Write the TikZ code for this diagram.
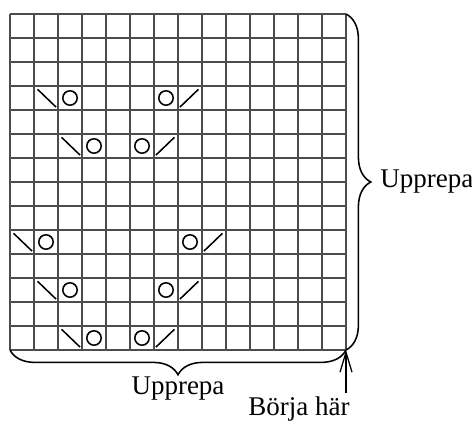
\documentclass[tikz,border=0pt]{standalone}
\usepackage{fontspec}
\setmainfont{Liberation Serif}
\usetikzlibrary{arrows.meta,decorations.pathreplacing,positioning}
\begin{document}
\begin{tikzpicture}[x=0.6cm,y=0.6cm,
	gridline/.style={black!70,line width=0.75pt},
	stitch/.style={line width=1.1pt},
	repbrace/.style={decorate,decoration={brace,amplitude=0.62cm},line width=1.1pt},
	lbl/.style={font=\fontsize{19.2}{23}\selectfont,inner sep=0pt}]
			\useasboundingbox (-0.4167,-2.958) rectangle (19.25,14.583);
			\coordinate (bl) at (0,0);
			\coordinate (br) at (14,0);
			\coordinate (tr) at (14,14);
			\draw[gridline,step=0.6cm] (bl) grid (tr);
			\foreach \r/\a/\b in {10/1/7,8/2/6,4/0/8,2/1/7,0/2/6}{
				\draw[stitch] (\a+0.15,\r+0.86)--(\a+0.92,\r+0.12);
				\draw[stitch] (\a+1.5,\r+0.5) circle (0.3);
				\draw[stitch] (\b-0.5,\r+0.5) circle (0.3);
				\draw[stitch] (\b+0.08,\r+0.12)--(\b+0.85,\r+0.86);
			}
			\draw[repbrace] (tr)--(br) node[midway,right=0.84cm,lbl] (uppright) {Upprepa};
			\draw[repbrace,decoration={mirror}] (bl)--(br) node[midway,below=0.64cm,lbl] (uppbottom) {Upprepa};
			\node[lbl,inner sep=2pt,anchor=north] (borja) at (12.04,-1.8) {Börja här};
			\draw[line width=0.9pt,-{Straight Barb[length=0.5cm,width=0.3cm]}] (borja.north -| br)--(br);
\end{tikzpicture}
\end{document}
